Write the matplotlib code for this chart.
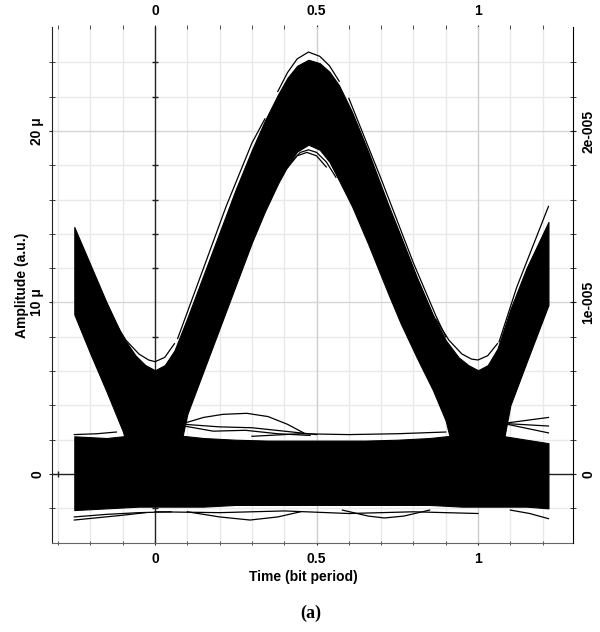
import numpy as np
import matplotlib
matplotlib.use("Agg")
import matplotlib.pyplot as plt

plt.rcParams["font.family"] = ["Liberation Sans", "DejaVu Sans"]
plt.rcParams["font.weight"] = "bold"

# ---- eye diagram, amplitude in micro-units, time in bit periods ----
# envelope of the "1" pulse (top edge / inner edge, 0 where it merges into the low level)
pulse_t = [-0.25, -0.20, -0.15, -0.10, -0.06, -0.03, 0.00, 0.03, 0.06, 0.10,
           0.15, 0.20, 0.25, 0.30, 0.34, 0.38, 0.41, 0.44, 0.475, 0.51,
           0.54, 0.57, 0.61, 0.66, 0.72, 0.76, 0.81, 0.86, 0.90, 0.94,
           0.97, 1.00, 1.03, 1.06, 1.10, 1.15, 1.218]
pulse_top = [14.4, 12.2, 10.0, 8.0, 6.9, 6.35, 6.05, 6.35, 7.2, 9.1,
             11.6, 14.1, 16.6, 18.9, 20.6, 22.1, 23.1, 23.8, 24.15, 23.95,
             23.45, 22.65, 21.1, 18.8, 15.8, 13.9, 11.5, 9.3, 7.8, 6.8,
             6.35, 6.05, 6.35, 7.3, 9.6, 12.0, 14.7]
pulse_bot = [9.3, 7.0, 4.8, 2.5, 0.0, 0.0, 0.0, 0.0, 0.0, 3.5,
             6.0, 8.5, 11.0, 13.5, 15.3, 16.9, 18.0, 18.8, 19.2, 18.9,
             18.2, 17.1, 15.6, 13.4, 10.6, 8.8, 6.8, 4.9, 3.1, 0.0,
             0.0, 0.0, 0.0, 0.0, 4.0, 6.5, 9.85]

# envelope of the "0" level
zero_t = [-0.25, -0.15, -0.05, 0.05, 0.15, 0.25, 0.35, 0.45,
          0.55, 0.65, 0.75, 0.85, 0.95, 1.05, 1.15, 1.218]
zero_top = [2.2, 2.1, 2.3, 2.3, 2.1, 2.0, 1.95, 1.95,
            1.95, 1.95, 2.0, 2.1, 2.3, 2.3, 2.0, 1.8]
zero_bot = [-2.1, -2.0, -1.9, -1.9, -1.9, -1.8, -1.8, -1.8,
            -1.8, -1.8, -1.8, -1.8, -1.9, -1.9, -1.9, -2.0]

# single traces that stand out from the bundles
stray_traces = [
    # around the pulse peak
    ([0.38, 0.41, 0.44, 0.475, 0.51, 0.54, 0.57], [22.3, 23.4, 24.2, 24.6, 24.35, 23.8, 22.9]),
    ([0.39, 0.42, 0.45, 0.475, 0.50, 0.53, 0.56], [17.2, 18.2, 18.75, 18.9, 18.75, 18.2, 17.3]),
    ([0.41, 0.44, 0.47, 0.50, 0.53], [17.85, 18.55, 18.75, 18.55, 17.9]),
    # outer edges of rising / falling slopes
    ([0.07, 0.15, 0.22, 0.30, 0.34], [7.9, 12.0, 15.6, 19.3, 20.7]),
    ([0.60, 0.70, 0.80, 0.87, 0.90], [21.9, 17.2, 12.3, 9.2, 8.0]),
    # bottoms of the two V shapes
    ([-0.13, -0.09, -0.05, -0.02, 0.00, 0.03, 0.06], [9.0, 7.8, 7.0, 6.65, 6.55, 6.8, 7.6]),
    ([0.87, 0.91, 0.95, 0.98, 1.00, 1.03, 1.06], [9.0, 7.8, 7.0, 6.7, 6.65, 6.9, 7.6]),
    ([1.065, 1.12, 1.17, 1.218], [7.7, 10.9, 13.3, 15.6]),
    # above the low level
    ([0.088, 0.15, 0.21, 0.284, 0.35, 0.41, 0.46], [2.95, 3.3, 3.48, 3.54, 3.35, 2.9, 2.4]),
    ([0.09, 0.20, 0.30, 0.40, 0.50], [2.9, 2.75, 2.7, 2.5, 2.3]),
    ([0.09, 0.18, 0.28, 0.38, 0.48], [2.8, 2.5, 2.55, 2.35, 2.25]),
    ([0.30, 0.45, 0.60, 0.75, 0.90], [2.2, 2.35, 2.3, 2.35, 2.45]),
    ([-0.25, -0.18, -0.12], [2.3, 2.35, 2.45]),
    ([1.078, 1.218], [2.95, 3.3]),
    ([1.078, 1.218], [2.95, 2.8]),
    ([1.078, 1.218], [2.95, 2.4]),
    # below the low level
    ([0.10, 0.20, 0.294, 0.38, 0.45], [-2.2, -2.5, -2.68, -2.5, -2.2]),
    ([0.58, 0.66, 0.71, 0.77, 0.85], [-2.1, -2.45, -2.56, -2.45, -2.1]),
    ([-0.25, -0.18, -0.10, -0.03], [-2.68, -2.55, -2.4, -2.25]),
    ([-0.25, -0.15, -0.05, 0.05], [-2.5, -2.35, -2.25, -2.2]),
    ([0.0, 0.2, 0.4, 0.6, 0.8, 1.0], [-2.2, -2.25, -2.15, -2.3, -2.2, -2.3]),
    ([1.10, 1.16, 1.218], [-2.1, -2.3, -2.6]),
]

x_major = [0, 0.5, 1]
x_labels = ["0", "0.5", "1"]
y_major = [0, 10, 20]
y_labels_left = ["0", "10 \u03bc", "20 \u03bc"]
y_labels_right = ["0", "1e-005", "2e-005"]

fig = plt.figure(figsize=(6, 6.32), dpi=100)
ax = fig.add_axes([0.0867, 0.1408, 0.8683, 0.8165])
ax.set_xlim(-0.319, 1.294)
ax.set_ylim(-4.02, 26.06)

# grid every 0.1 bit / 2 units
ax.set_xticks(np.round(np.arange(-0.3, 1.21, 0.1), 1), minor=True)
ax.set_yticks(np.arange(-2, 25, 2), minor=True)
ax.grid(which="minor", color="#e9e9e9", lw=1.0)
ax.set_axisbelow(True)
for gx in (0.5, 1.0):
    ax.axvline(gx, color="#cdcdcd", lw=1.0, zorder=0.6)
for gy in (10, 20):
    ax.axhline(gy, color="#d6d6d6", lw=1.0, zorder=0.6)

# zero axes with their own small ticks
ax.axvline(0, color="#222222", lw=1.0, zorder=1)
ax.axhline(0, color="#222222", lw=1.0, zorder=1)
ax.plot(np.zeros(len(ax.get_yticks(minor=True))), ax.get_yticks(minor=True),
        ls="none", marker="_", ms=5, mew=1, color="#222222", zorder=1)
ax.plot(ax.get_xticks(minor=True), np.zeros(len(ax.get_xticks(minor=True))),
        ls="none", marker="|", ms=4, mew=1, color="#222222", zorder=1)

# eye traces
ax.fill_between(zero_t, zero_bot, zero_top, color="black", lw=0.8, edgecolor="black", zorder=2)
ax.fill_between(pulse_t, pulse_bot, pulse_top, color="black", lw=0.8, edgecolor="black", zorder=2)
for tt, vv in stray_traces:
    ax.plot(tt, vv, color="black", lw=0.9, zorder=3)

# x ticks top and bottom
ax.set_xticks(x_major)
ax.set_xticklabels(x_labels)
ax.tick_params(axis="x", which="major", top=True, bottom=True, labeltop=True,
               labelbottom=True, length=3, direction="inout", labelsize=10,
               pad=5, color="#222222")
ax.tick_params(axis="x", which="minor", top=True, bottom=True, length=3,
               direction="inout", color="#333333")

# left amplitude axis
ax.set_yticks(y_major)
ax.set_yticklabels(y_labels_left)
ax.tick_params(axis="y", which="both", left=True, right=False, length=5,
               direction="inout", labelsize=10, labelrotation=90, pad=3,
               color="#222222")
for lbl in ax.get_yticklabels():
    lbl.set_va("center")

for side in ("top", "right"):
    ax.spines[side].set_visible(False)
ax.spines["left"].set_color("#222222")
ax.spines["bottom"].set_color("#666666")
ax.spines["bottom"].set_linestyle((0, (1, 1)))

# right axis in plain units
ax2 = ax.twinx()
ax2.set_ylim(ax.get_ylim())
ax2.set_yticks(y_major)
ax2.set_yticklabels(y_labels_right)
ax2.set_yticks(np.arange(-2, 25, 2), minor=True)
ax2.tick_params(axis="y", which="both", length=4, direction="inout",
                labelsize=10, labelrotation=90, pad=4, color="#222222")
for lbl in ax2.get_yticklabels():
    lbl.set_va("center")
for side in ("left", "top", "bottom"):
    ax2.spines[side].set_visible(False)
ax2.spines["right"].set_color("black")
ax2.spines["right"].set_linestyle((0, (1, 1)))

fig.text(0.0367, 0.549, "Amplitude (a.u.)", rotation=90, ha="center",
         va="center", fontsize=10)
fig.text(0.505, 0.087, "Time (bit period)", ha="center", va="center",
         fontsize=10)
fig.text(0.518, 0.030, "(a)", ha="center", va="center", fontsize=13,
         family=["Liberation Serif", "DejaVu Serif"])

fig.savefig("out.png", dpi=100)
